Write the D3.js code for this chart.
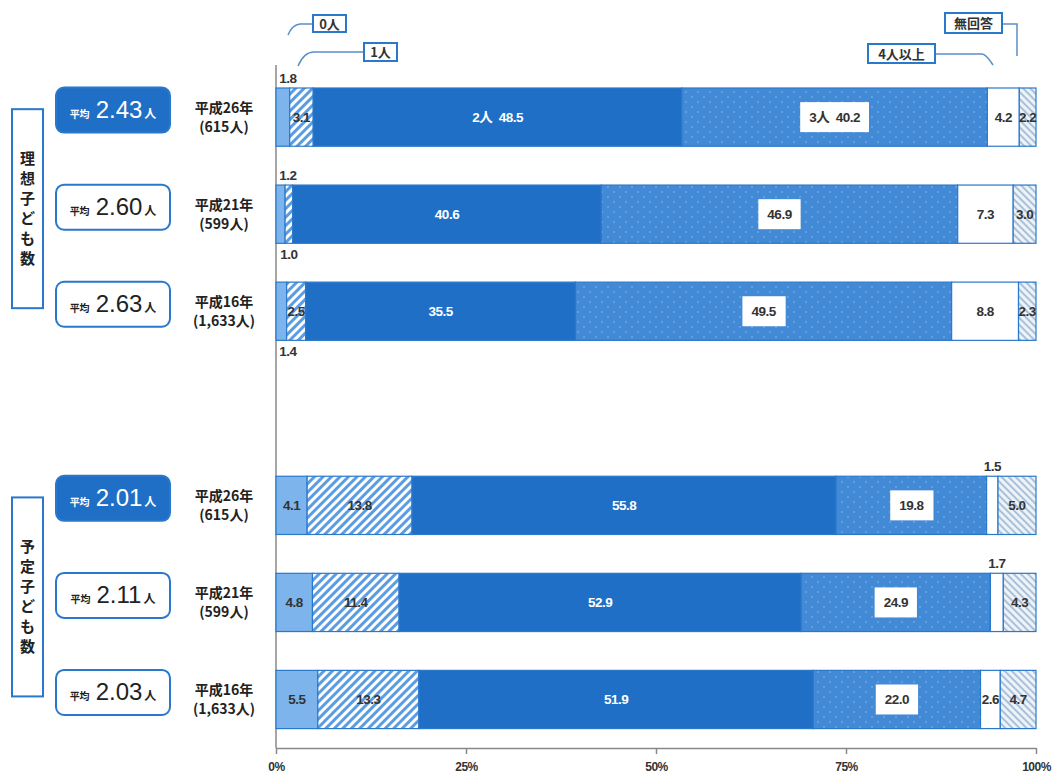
<!DOCTYPE html>
<html><head><meta charset="utf-8">
<script src="https://cdn.jsdelivr.net/npm/d3@7"></script>
<style>
html,body{margin:0;padding:0;background:#fff;}
svg{display:block;font-family:"Noto Sans CJK JP","Noto Sans",sans-serif;}
</style></head>
<body>
<svg id="c" width="1057" height="780"></svg>
<script>
const categories = ["0人","1人","2人","3人","4人以上","無回答"];
const years = ["平成26年","平成21年","平成16年"];
const counts = ["(615人)","(599人)","(1,633人)"];
const groups = ["理想子ども数","予定子ども数"];
const idealValues = [
  [1.8, 3.1, 48.5, 40.2, 4.2, 2.2],
  [1.2, 1.0, 40.6, 46.9, 7.3, 3.0],
  [1.4, 2.5, 35.5, 49.5, 8.8, 2.3]
];
const plannedValues = [
  [4.1, 13.8, 55.8, 19.8, 1.5, 5.0],
  [4.8, 11.4, 52.9, 24.9, 1.7, 4.3],
  [5.5, 13.3, 51.9, 22.0, 2.6, 4.7]
];
const idealAvg = ["2.43","2.60","2.63"];
const plannedAvg = ["2.01","2.11","2.03"];
const xTicks = [0, 25, 50, 75, 100];
// label placement per segment: in / above / below
const idealPlace = [
  ["above","in","in","in","in","in"],
  ["above","below","in","in","in","in"],
  ["below","in","in","in","in","in"]
];
const plannedPlace = [
  ["in","in","in","in","above","in"],
  ["in","in","in","in","above","in"],
  ["in","in","in","in","in","in"]
];

const svg = d3.select("#c");
const defs = svg.append("defs");
const BLUE = "#1f6fc6", MID = "#4289d6", LIGHT = "#7db4ec", EDGE = "#2a78cc";

const h1 = defs.append("pattern").attr("id","hatch1").attr("patternUnits","userSpaceOnUse")
  .attr("width",6).attr("height",6).attr("patternTransform","rotate(45)");
h1.append("rect").attr("width",6).attr("height",6).attr("fill","#fff");
h1.append("rect").attr("width",3).attr("height",6).attr("fill","#5b9ce2");
const h2 = defs.append("pattern").attr("id","hatch2").attr("patternUnits","userSpaceOnUse")
  .attr("width",5).attr("height",5).attr("patternTransform","rotate(-45)");
h2.append("rect").attr("width",5).attr("height",5).attr("fill","#eef3f8");
h2.append("rect").attr("width",2).attr("height",5).attr("fill","#a9c1da");
const dp = defs.append("pattern").attr("id","dots").attr("patternUnits","userSpaceOnUse")
  .attr("width",12).attr("height",10);
dp.append("rect").attr("width",12).attr("height",10).attr("fill",MID);
dp.append("circle").attr("cx",2).attr("cy",2).attr("r",0.8).attr("fill","#8dbbea");
dp.append("circle").attr("cx",8).attr("cy",7).attr("r",0.8).attr("fill","#8dbbea");

const fills = [LIGHT, "url(#hatch1)", BLUE, "url(#dots)", "#fff", "url(#hatch2)"];

const rows = [];
idealValues.forEach((v,i)=>rows.push({id:"i"+i, vals:v, place:idealPlace[i], year:years[i], count:counts[i], avg:idealAvg[i], filled:i===0, first:i===0}));
rows.push({id:"gap"});
plannedValues.forEach((v,i)=>rows.push({id:"p"+i, vals:v, place:plannedPlace[i], year:years[i], count:counts[i], avg:plannedAvg[i], filled:i===0, first:false}));

const x = d3.scaleLinear().domain([0,100]).range([276, 1036]);
const y = d3.scaleBand().domain(rows.map(r=>r.id)).range([88, 728.6]).paddingInner(0.4).paddingOuter(0);
const bw = y.bandwidth();

const axisY = 748;
const gx = svg.append("g").attr("transform",`translate(0,${axisY})`)
  .call(d3.axisBottom(x).tickValues(xTicks).tickFormat(d=>d+"%").tickSize(6).tickSizeOuter(0));
gx.select(".domain").attr("stroke","#888").attr("stroke-width",1.5);
gx.selectAll(".tick line").attr("stroke","#888").attr("stroke-width",1.5);
gx.selectAll(".tick text").attr("font-size",12).attr("font-weight","bold").attr("fill","#333")
  .attr("font-family","'Liberation Sans',sans-serif").attr("letter-spacing",-0.5).attr("dy","1.2em");
svg.append("line").attr("x1",x(0)).attr("x2",x(0)).attr("y1",65).attr("y2",axisY)
  .attr("stroke","#888").attr("stroke-width",1.5);

const numFont = "'Liberation Sans','Noto Sans CJK JP',sans-serif";

rows.filter(r=>r.vals).forEach(r=>{
  const top = y(r.id), cy = top + bw/2;
  let acc = 0;
  const segs = r.vals.map((v,k)=>{ const s={k,v,x0:acc,x1:acc+v}; acc+=v; return s; });
  const g = svg.append("g");
  g.selectAll("rect.seg").data(segs).enter().append("rect")
    .attr("x",d=>x(d.x0)).attr("y",top).attr("width",d=>x(d.x1)-x(d.x0)).attr("height",bw)
    .attr("fill",d=>fills[d.k]).attr("stroke",EDGE).attr("stroke-width",1.2);
  segs.forEach(d=>{
    const pl = r.place[d.k];
    const label = (r.first && (d.k===2||d.k===3) ? categories[d.k]+"  " : "") + d.v.toFixed(1);
    let cx = (x(d.x0)+x(d.x1))/2;
    if (pl==="above" || pl==="below") {
      if (d.k<2) cx = Math.max(cx, 288);
      g.append("text").attr("x",cx).attr("y", pl==="above" ? top-5 : top+bw+16)
        .attr("text-anchor","middle").attr("font-size",13.5).attr("font-weight","bold")
        .attr("font-family",numFont).attr("fill","#333").attr("letter-spacing",-0.5).text(label);
      return;
    }
    const t = g.append("text").attr("x",cx).attr("y",cy+5).attr("text-anchor","middle")
      .attr("font-size",13.5).attr("font-weight","bold").attr("font-family",numFont)
      .attr("letter-spacing",-0.5).attr("fill", d.k===2 ? "#fff" : "#333").attr("xml:space","preserve").text(label);
    if (d.k===3) {
      const bb = t.node().getBBox();
      g.insert("rect","text:last-child").attr("x",bb.x-9).attr("y",cy-15).attr("width",bb.width+18).attr("height",30)
        .attr("fill","#fff");
      t.raise();
    }
  });
  svg.append("text").attr("x",224).attr("y",cy-4).attr("text-anchor","middle").attr("font-size",14)
    .attr("font-weight","bold").attr("fill","#222").text(r.year);
  svg.append("text").attr("x",224).attr("y",cy+15).attr("text-anchor","middle").attr("font-size",14)
    .attr("font-weight","bold").attr("fill","#222").text(r.count);
  const by = cy - 7 - 22.5;
  svg.append("rect").attr("x",56).attr("y",by).attr("width",114).attr("height",45).attr("rx",8)
    .attr("fill", r.filled ? BLUE : "#fff").attr("stroke", EDGE).attr("stroke-width",2);
  const col = r.filled ? "#fff" : "#222";
  const at = svg.append("text").attr("x",113).attr("y",by+30).attr("text-anchor","middle").attr("fill",col).attr("font-weight","bold");
  at.append("tspan").attr("font-size",10).text("平均");
  at.append("tspan").attr("font-size",24).attr("dx",6).attr("font-family",numFont).attr("font-weight","normal").text(r.avg);
  at.append("tspan").attr("font-size",12).attr("dx",2).text("人");
});

[["i0","i2"],["p0","p2"]].forEach((ids,gi)=>{
  const t0 = y(ids[0]), t1 = y(ids[1])+bw;
  const c = (t0+t1)/2 - 6;
  svg.append("rect").attr("x",12).attr("y",c-99).attr("width",31).attr("height",199)
    .attr("fill","#fff").attr("stroke",EDGE).attr("stroke-width",2);
  const chars = Array.from(groups[gi]);
  chars.forEach((ch,j)=>{
    svg.append("text").attr("x",27.5).attr("y",c-50+ (j)*20+6).attr("text-anchor","middle")
      .attr("font-size",15).attr("font-weight","bold").attr("fill","#222").text(ch);
  });
});

function callout(txt, bx, by, w, h, path){
  svg.append("path").attr("d",path).attr("fill","none").attr("stroke","#5b8fc9").attr("stroke-width",1.5);
  svg.append("rect").attr("x",bx).attr("y",by).attr("width",w).attr("height",h)
    .attr("fill","#fff").attr("stroke",EDGE).attr("stroke-width",2);
  svg.append("text").attr("x",bx+w/2).attr("y",by+h/2+5).attr("text-anchor","middle")
    .attr("font-size",13).attr("font-weight","bold").attr("fill","#333").text(txt);
}
callout(categories[0], 313, 15, 33, 17, "M288,35 Q292,25 300,24 L312,24");
callout(categories[1], 364, 43, 33, 18, "M298,66 Q304,52 314,52 L363,52");
callout(categories[4], 868, 44, 67, 19, "M936,54 L982,54 Q986,54 993,65");
callout(categories[5], 945, 13, 57, 20, "M1003,24 L1017,24 L1017,56");
</script>
</body></html>
